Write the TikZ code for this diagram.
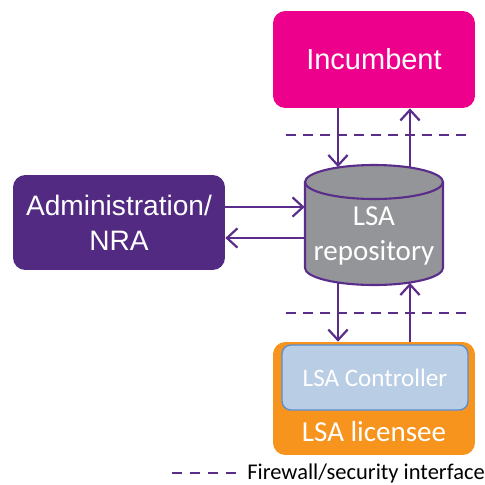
\documentclass[tikz,border=0pt]{standalone}
\usepackage{fontspec}
\setmainfont{Carlito}
\newfontfamily\arialfont{Liberation Sans}
\usetikzlibrary{arrows.meta}
\definecolor{incmagenta}{HTML}{EC008C}
\definecolor{nrapurple}{HTML}{522A82}
\definecolor{linkpurple}{HTML}{5A2D8A}
\definecolor{repogrey}{HTML}{939598}
\definecolor{licorange}{HTML}{F7941D}
\definecolor{ctrlblue}{HTML}{B9CDE5}
\definecolor{ctrledge}{HTML}{5B8ED0}

\begin{document}
\begin{tikzpicture}[x=0.02cm, y=-0.02cm,
        box/.style={rounded corners=7pt, text=white, align=center, inner sep=0pt},
        link/.style={draw=linkpurple, line width=1.25pt, -{Straight Barb[length=6pt,width=11pt]}},
        firewall/.style={draw=linkpurple, line width=1.3pt, dash pattern=on 5.7pt off 4pt}]
        \useasboundingbox (0,0) rectangle (485,485);
        % boxes
        \node (inc) at (374,59.5) [box, fill=incmagenta, minimum width=4.04cm, minimum height=1.94cm, font=\arialfont\fontsize{16.5}{19.8}\selectfont] {Incumbent};
        \node (nra) at (119,222.5) [box, fill=nrapurple, minimum width=4.24cm, minimum height=1.9cm, font=\arialfont\fontsize{16}{19.8}\selectfont] {Administration/\\NRA};
        % repository drum
        \filldraw[draw=linkpurple, fill=repogrey, line width=1.2pt] (305,182) -- (305,268) arc[start angle=180, end angle=360, x radius=1.38cm, y radius=0.34cm] -- (443,182) arc[start angle=0, end angle=180, x radius=1.38cm, y radius=0.34cm] -- cycle;
        \draw[linkpurple, line width=1.2pt] (305,182) arc[start angle=180, end angle=360, x radius=1.38cm, y radius=0.34cm];
        \node (repo) at (374,225) [minimum width=2.76cm, minimum height=2.4cm, inner sep=0pt] {};
        \node (repolbl) at (374,236) [align=center, text=white, font=\fontsize{16.5}{19.8}\selectfont] {LSA\\repository};
        \node (lic) at (374,398.5) [box, fill=licorange, minimum width=4.04cm, minimum height=2.26cm] {};
        \node (ctrl) at (375,377.5) [box, rounded corners=5pt, fill=ctrlblue, draw=ctrledge, line width=0.8pt, minimum width=3.72cm, minimum height=1.3cm, font=\fontsize{14.3}{17}\selectfont] {LSA Controller};
        \node (liclbl) at (374,431.5) [text=white, font=\fontsize{16.5}{19.8}\selectfont] {LSA licensee};
        % firewalls
        \draw[firewall] (286,135) -- (466,135);
        \draw[firewall] (286,313) -- (466,313);
        % links
        \coordinate (colA) at (338,0);
        \coordinate (colB) at (410,0);
        \coordinate (rowA) at (0,207);
        \coordinate (rowB) at (0,238);
        \draw[link, shorten >=-1.4pt] (inc.south -| colA) -- (repo.north -| colA);
        \draw[link, shorten <=-1.4pt] (repo.north -| colB) -- (inc.south -| colB);
        \draw[link, shorten <=-1.4pt] (repo.south -| colA) -- (lic.north -| colA);
        \draw[link, shorten >=-1.4pt] (lic.north -| colB) -- (repo.south -| colB);
        \draw[link] (nra.east |- rowA) -- (repo.west |- rowA);
        \draw[link] (repo.west |- rowB) -- (nra.east |- rowB);
        % legend
        \node (keytxt) at (247,473.5) [anchor=west, inner sep=0pt, font=\fontsize{12.8}{15}\selectfont] {Firewall/security interface};
        \coordinate (keyend) at (237,473);
        \draw[firewall, dash pattern=on 5.7pt off 4.5pt] (172,473) -- (keyend);
    \end{tikzpicture}
\end{document}
